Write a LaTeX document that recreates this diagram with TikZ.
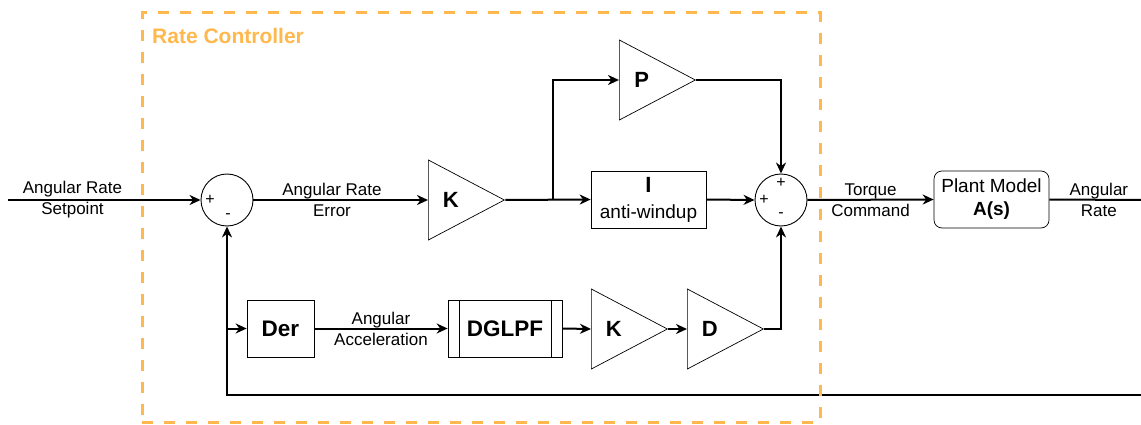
\documentclass[tikz,border=0pt]{standalone}
\usepackage{fontspec}
\setmainfont{Liberation Sans}
\usetikzlibrary{shapes.geometric,arrows.meta,positioning}
\definecolor{rategold}{HTML}{FFB84D}
\definecolor{wireblack}{HTML}{000000}

\begin{document}
\begin{tikzpicture}[
    x=1pt, y=-1pt,
    font=\fontsize{17}{20}\selectfont,
    sumnode/.style={circle, draw=wireblack, line width=0.9pt, minimum size=52pt, inner sep=0pt},
    gain/.style={isosceles triangle, isosceles triangle stretches, shape border rotate=0,
      draw=wireblack, line width=0.7pt, minimum height=76pt, minimum width=80pt,
      inner sep=0pt, anchor=lower side, font=\fontsize{22}{24}\selectfont\bfseries},
    block/.style={draw=wireblack, line width=0.7pt, align=center, inner sep=0pt,
      minimum width=115pt, minimum height=57pt, font=\fontsize{19}{22}\selectfont},
    procbox/.style={block, path picture={
        \draw[line width=0.7pt] ([xshift=11pt]path picture bounding box.north west)
          -- ([xshift=11pt]path picture bounding box.south west);
        \draw[line width=0.7pt] ([xshift=-11pt]path picture bounding box.north east)
          -- ([xshift=-11pt]path picture bounding box.south east);}},
    flow/.style={-{Stealth[length=11pt, width=10pt, inset=3.5pt]}, line width=2pt, wireblack},
    wire/.style={line width=2pt, wireblack},
    lbl/.style={align=center, inner sep=0pt, font=\fontsize{17}{21}\selectfont},
    sign/.style={inner sep=0pt, font=\fontsize{16}{16}\selectfont}
  ]
    \useasboundingbox (0,0) rectangle (1141,425);
    % Sommateurs
    \node[sumnode] (sum1) at (227,200) {};
    \node[sign] (s1plus) at (210,200) {+};
    \node[sign] (s1minus) at (228,216) {-};
    \node[sumnode] (sum2) at (781,200) {};
    \node[sign] (s2top) at (781,183) {+};
    \node[sign] (s2left) at (764,200) {+};
    \node[sign] (s2minus) at (781,215) {-};
    % Gains
    \node[gain] (kgain) at (428,200) {K};
    \node[gain] (pgain) at (619,80) {P};
    \node[gain] (kdgain) at (591,329) {K};
    \node[gain] (dgain) at (687,329) {D};
    % Blocs
    \node[block] (integ) at (648.5,199.5)
      {{\fontsize{22}{22}\selectfont\bfseries I}\\[4pt]anti-windup};
    \node[block, rounded corners=8pt] (plant) at (991.5,199.5)
      {Plant Model\\[1pt]{\bfseries A(s)}};
    \node[block, minimum width=67pt, font=\fontsize{22.5}{24}\selectfont\bfseries] (der)
      at (280.5,328.5) {Der};
    \node[procbox, minimum width=114pt, font=\fontsize{22.5}{24}\selectfont\bfseries] (dglpf)
      at (505,328.5) {DGLPF};
    % Points libres
    \coordinate (setpt) at (8,200);
    \coordinate (rateout) at (1141,200);
    \coordinate (fbin) at (1141,395);
    \coordinate (split) at (553,200);
    \coordinate (tap) at (227,328.5);
    % Chaine directe
    \draw[flow] (setpt) -- node[lbl, pos=0.335]{Angular Rate\\Setpoint} (sum1.west);
    \draw[flow] (sum1.east) -- node[lbl, pos=0.45]{Angular Rate\\Error} (kgain.lower side);
    \draw[flow] (kgain.apex) -- (integ.west);
    \draw[flow] (split) |- (pgain.lower side);
    \draw[flow] (pgain.apex) -| (sum2.north);
    \draw[flow] (integ.east) -- (sum2.west);
    \draw[flow] (sum2.east) -- node[lbl]{Torque\\Command} (plant.west);
    \draw[wire] (plant.east) -- node[lbl, pos=0.54]{Angular\\Rate} (rateout);
    % Retour et derivee
    \draw[flow] (fbin) -| (sum1.south);
    \draw[flow] (tap) -- (der.west);
    \draw[flow] (der.east) -- node[lbl]{Angular\\Acceleration} (dglpf.west);
    \draw[flow] (dglpf.east) -- (kdgain.lower side);
    \draw[flow] (kdgain.apex) -- (dgain.lower side);
    \draw[flow] (dgain.apex) -| (sum2.south);
    % Cadre du regulateur
    \node[draw=rategold, line width=3pt, dash pattern=on 11pt off 11pt,
          minimum width=678pt, minimum height=409pt, inner sep=0pt] (ctrl) at (481,217.5) {};
    \node[anchor=west, text=rategold, inner sep=0pt, font=\fontsize{21}{24}\selectfont\bfseries]
          (ctrltitle) at (152,36) {Rate Controller};
  \end{tikzpicture}
\end{document}
